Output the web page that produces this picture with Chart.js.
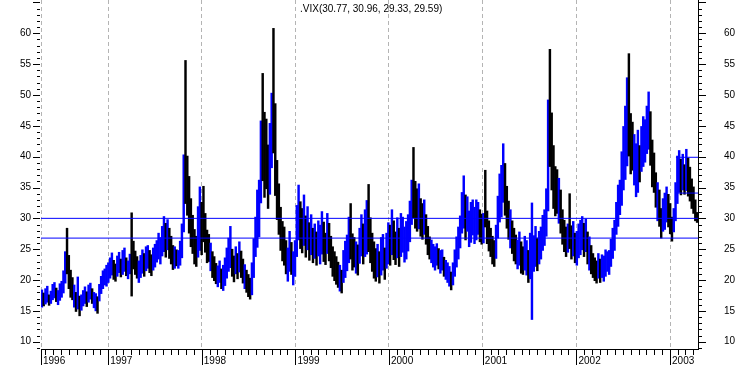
<!DOCTYPE html>
<html>
<head>
<meta charset="utf-8">
<title>VIX weekly</title>
<script src="https://cdn.jsdelivr.net/npm/chart.js@4.4.1/dist/chart.umd.min.js"></script>
<style>
  html, body { margin: 0; padding: 0; background: #fff; }
  #vix { display: block; }
</style>
</head>
<body>
<canvas id="vix" width="738" height="365"></canvas>
<script>
// weekly ranges, first bar = week of 14 Apr 1996
const firstWeek = '1996-04-14';

const low1996 = [15.6,15.8,16.1,16.4,15.9,16.2,16.8,17.1,16.5,16.0,16.7,17.2,17.9,19.5,21.0,18.6,17.2,16.8,15.6,14.9,15.3,14.2,15.1,15.8,16.2,15.7,16.4,16.9,16.2,15.5,15.0,14.6,16.6,17.8,18.6,19.2,19.0];
const high1996 = [18.4,17.9,18.6,19.0,17.6,18.2,19.3,19.6,18.7,18.3,19.4,19.8,21.5,24.6,28.4,24.0,21.6,20.4,19.2,18.0,20.5,17.4,17.6,18.3,18.9,18.1,19.2,19.5,18.6,18.0,17.8,17.3,19.3,20.6,21.5,21.8,22.4];

const low1997 = [19.6,20.3,20.8,20.1,19.8,20.6,21.2,20.5,20.9,21.4,20.7,20.2,21.0,17.4,21.8,20.9,20.3,19.6,20.4,21.1,20.6,21.5,21.9,21.2,20.7,21.6,22.1,22.9,23.4,22.6,23.9,24.6,23.7,24.9,23.5,22.6,21.7,21.9,22.3,21.9,22.4,23.6,27.8,32.4,30.5,27.6,25.4,24.3,22.6,22.2,23.7,24.8];
const high1997 = [22.8,23.6,24.4,23.2,22.6,23.9,24.5,23.4,24.8,25.2,23.6,23.1,24.2,30.9,26.3,24.7,23.8,23.1,24.0,24.9,24.3,25.4,25.6,24.8,24.1,25.2,25.8,26.4,27.6,26.9,28.7,30.3,29.2,29.8,28.4,27.1,25.6,25.4,24.9,24.8,26.3,29.1,40.3,55.6,40.1,36.8,33.2,30.5,28.2,27.1,31.9,35.1];

const low1998 = [24.1,26.2,24.5,22.8,23.0,21.5,20.4,19.9,19.4,18.9,19.6,18.6,18.3,19.1,20.3,21.4,22.0,20.6,19.7,21.0,20.2,21.3,20.4,19.5,18.6,18.0,17.3,16.9,17.6,20.4,23.8,25.3,27.0,32.5,36.1,33.4,34.8,31.6,33.9,38.2,40.6,33.7,29.8,27.4,24.8,23.1,22.4,21.0,19.8,21.4,20.9,19.2];
const high1998 = [32.6,35.2,30.8,28.1,27.4,26.0,24.6,23.8,22.7,22.3,23.1,21.8,22.4,23.6,25.2,26.8,28.7,25.0,23.9,25.4,24.3,26.2,24.7,23.4,22.5,21.6,20.9,20.3,22.8,26.7,30.2,34.6,36.2,45.8,53.5,47.2,46.1,41.9,45.4,50.3,60.8,48.6,39.4,35.6,31.8,29.5,28.6,26.4,25.2,27.9,26.1,24.6];

const low1999 = [20.6,23.8,26.5,25.1,24.4,25.6,23.7,24.9,23.2,24.1,22.8,23.5,22.4,23.9,22.6,24.2,23.0,22.5,24.3,23.1,22.0,20.6,19.9,19.3,18.8,18.2,17.9,19.6,20.4,21.5,22.8,23.4,21.6,22.1,21.1,20.8,22.7,23.9,22.6,23.8,24.2,24.6,22.8,21.4,20.3,19.8,20.5,19.5,20.8,21.6,20.1,21.9,22.6];
const high1999 = [26.4,32.1,35.4,32.7,31.6,33.8,30.4,31.9,29.3,30.6,28.4,29.1,27.8,29.6,28.9,31.1,29.4,27.6,30.8,29.2,27.1,25.4,24.6,23.8,22.9,22.4,21.6,24.8,26.3,27.3,30.2,32.4,27.5,26.9,26.2,25.7,28.4,30.6,29.1,31.4,32.9,35.5,30.1,27.6,26.2,25.1,25.8,24.6,26.9,27.4,25.2,27.6,29.3];

const low2000 = [22.4,24.1,23.3,22.5,23.6,22.2,23.8,24.5,22.9,23.4,24.7,26.2,29.0,30.1,28.4,27.9,28.3,27.1,26.6,27.4,25.8,24.1,23.4,22.8,22.1,21.6,22.4,21.8,21.1,21.6,20.6,20.1,19.6,19.0,18.4,19.2,20.6,22.1,23.4,25.2,27.6,28.4,26.5,27.9,25.4,26.1,27.3,25.9,26.5,27.4,26.2,25.8];
const high2000 = [28.9,31.4,29.6,27.8,30.1,28.4,30.8,30.2,28.6,29.5,30.6,32.8,36.2,41.5,36.0,34.8,35.6,33.2,32.4,33.0,30.6,28.7,27.0,26.5,25.8,25.4,25.9,25.1,24.8,24.9,23.7,23.2,22.8,22.2,21.3,22.8,24.9,27.0,28.6,30.4,34.2,36.9,33.8,33.5,31.2,32.6,33.0,31.8,33.0,32.6,31.4,30.7];

const low2001 = [26.0,28.6,25.9,24.7,23.8,22.6,22.2,23.5,26.8,29.4,30.2,32.6,30.5,28.4,26.6,25.2,24.3,23.1,22.6,21.8,22.4,21.1,20.9,21.6,20.8,19.6,20.2,13.6,21.4,22.2,21.5,22.6,23.4,24.8,25.6,27.1,31.2,38.4,34.6,31.6,30.4,30.8,29.2,27.6,25.8,24.6,23.8,24.5,25.1,23.4,23.9,22.8];
const high2001 = [30.8,37.8,31.2,29.6,28.4,27.1,26.4,28.9,33.6,37.2,38.6,42.1,38.9,35.2,32.8,31.4,29.6,28.4,27.3,26.5,27.8,26.2,25.4,27.1,26.4,24.8,27.6,32.5,27.2,28.7,26.8,27.9,28.6,30.5,31.4,34.8,49.2,57.4,47.1,41.8,38.4,37.9,36.5,34.6,31.4,29.7,28.6,29.1,34.0,28.8,29.5,27.6];

const low2002 = [22.4,23.6,24.1,24.9,23.8,24.6,22.6,21.6,21.0,20.4,19.9,19.5,20.3,19.6,20.4,19.8,20.6,21.4,20.9,22.2,23.5,24.8,27.4,28.7,30.6,32.1,34.6,36.3,38.5,40.1,37.2,37.8,35.4,33.5,34.2,35.9,37.6,38.4,39.1,40.5,41.2,38.6,35.1,34.2,31.8,29.6,28.7,26.8,27.9,28.2,29.4,28.6];
const high2002 = [27.9,29.1,29.7,30.3,29.2,29.9,27.8,27.0,25.6,24.3,23.6,23.1,24.3,23.4,24.1,23.9,24.9,24.6,24.8,26.6,28.4,29.7,32.6,35.4,36.2,40.8,44.9,48.2,52.8,56.7,47.0,45.6,43.6,42.1,44.3,41.8,44.9,46.5,46.0,48.2,50.5,47.3,42.7,40.6,37.4,35.8,34.6,31.6,33.2,34.1,35.1,33.9];

const low2003 = [27.5,26.3,27.8,29.6,32.4,34.2,33.8,34.6,33.9,34.5,33.6,32.8,31.6,30.8,29.6,29.33];
const high2003 = [32.4,30.2,31.6,35.8,40.1,41.0,39.6,40.4,38.7,41.2,39.8,38.3,36.4,35.1,33.0,30.96];

const yearLabels = ['1996', '1997', '1998', '1999', '2000', '2001', '2002', '2003'];
const yTicks = [10, 15, 20, 25, 30, 35, 40, 45, 50, 55, 60];
const levels = [30.0, 26.8];
const channel = [39.9, 34.1];
const channelFrom = '2003-01-24';
const title = '.VIX(30.77, 30.96, 29.33, 29.59)';

const lows = [].concat(low1996, low1997, low1998, low1999, low2000, low2001, low2002, low2003);
const highs = [].concat(high1996, high1997, high1998, high1999, high2000, high2001, high2002, high2003);

const DAY = 86400000;
const t0 = Date.parse(firstWeek);
const weekPos = d => (Date.parse(d) - t0) / (7 * DAY) - 0.5;
const weeks = lows.map((_, i) => new Date(t0 + i * 7 * DAY).toISOString().slice(0, 10));
const xMin = -0.5;
const xMax = lows.length - 0.5;
const yearTicks = yearLabels.map((y, i) => i === 0 ? xMin : weekPos(y + '-01-01'));

// black for weeks that drifted lower on a narrower range and for upward spikes
// that reversed; downward spikes stay blue
const barColors = lows.map((lo, i) => {
  if (!i || i === lows.length - 1) return i ? '#000000' : '#0000ff';
  const fell = lo + highs[i] < lows[i - 1] + highs[i - 1];
  const narrower = highs[i] - lo < highs[i - 1] - lows[i - 1];
  const reversed = highs[i] - highs[i + 1] > 4;
  const dip = lo < Math.min(lows[i - 1], lows[i + 1]) - 5;
  if (dip) return '#0000ff';
  return (fell && narrower) || reversed ? '#000000' : '#0000ff';
});

const hline = (v, from) => ({
  type: 'line',
  data: [{x: from, y: v}, {x: xMax, y: v}],
  borderColor: '#0000ff',
  borderWidth: 1,
  pointRadius: 0,
  order: 0
});

const noPad = s => { s.paddingTop = 0; s.paddingBottom = 0; s.paddingLeft = 0; s.paddingRight = 0; };

// minor/major tick marks and the caption
const axisMarks = {
  id: 'axisMarks',
  afterDraw(chart) {
    const {ctx, chartArea: a, scales: {x, y}} = chart;
    ctx.save();
    ctx.strokeStyle = '#000';
    ctx.lineWidth = 1;
    ctx.beginPath();
    for (let v = Math.ceil(y.min); v <= Math.floor(y.max); v++) {
      const py = Math.round(y.getPixelForValue(v)) + 0.5;
      const major = v % 5 === 0;
      ctx.moveTo(a.left - (major ? 8 : 4), py);
      ctx.lineTo(a.left - 1, py);
      ctx.moveTo(a.right, py);
      ctx.lineTo(a.right + (major ? 8 : 4), py);
    }
    const edge = Math.round(x.getPixelForValue(xMin)) + 0.5;
    ctx.moveTo(edge, a.bottom);
    ctx.lineTo(edge, a.bottom + 16);
    for (let yr = 1996; yr <= 2003; yr++) {
      for (let m = 1; m <= 12; m++) {
        const pos = weekPos(yr + '-' + String(m).padStart(2, '0') + '-01');
        if (pos <= xMin || pos >= xMax) continue;
        const px = Math.round(x.getPixelForValue(pos)) + 0.5;
        ctx.moveTo(px, a.bottom);
        ctx.lineTo(px, a.bottom + (m === 1 ? 16 : 6));
      }
    }
    ctx.stroke();
    ctx.fillStyle = '#000';
    ctx.font = '10px "Liberation Sans", Arial, sans-serif';
    ctx.textBaseline = 'alphabetic';
    ctx.fillText(title, 300, 12);
    ctx.restore();
  }
};

Chart.defaults.font.family = '"Liberation Sans", Arial, sans-serif';
Chart.defaults.font.size = 10;
Chart.defaults.color = '#000';

new Chart(document.getElementById('vix'), {
  type: 'bar',
  data: {
    labels: weeks,
    datasets: [
      {
        type: 'bar',
        data: lows.map((lo, i) => ({x: i, y: [lo, highs[i]]})),
        backgroundColor: barColors,
        borderWidth: 0,
        barPercentage: 1,
        categoryPercentage: 1,
        order: 2
      },
      hline(levels[0], xMin),
      hline(levels[1], xMin),
      hline(channel[0], weekPos(channelFrom)),
      hline(channel[1], weekPos(channelFrom))
    ]
  },
  options: {
    responsive: false,
    animation: false,
    devicePixelRatio: 1,
    layout: { padding: 0 },
    plugins: {
      legend: { display: false },
      tooltip: { enabled: false }
    },
    scales: {
      x: {
        type: 'linear',
        min: xMin,
        max: xMax,
        offset: false,
        afterBuildTicks: s => { s.ticks = yearTicks.map(v => ({value: v})); },
        afterFit: s => { s.height = 16; noPad(s); },
        ticks: {
          autoSkip: false,
          maxRotation: 0,
          align: 'start',
          labelOffset: 2,
          padding: 6,
          callback: (v, i) => yearLabels[i]
        },
        grid: { offset: false, drawOnChartArea: true, drawTicks: false, color: '#b4b4b4', lineWidth: 1 },
        border: { display: true, color: '#000', width: 1, dash: [4, 3] }
      },
      y: {
        type: 'linear',
        position: 'left',
        min: 8.82,
        max: 65.4,
        afterBuildTicks: s => { s.ticks = yTicks.map(v => ({value: v})); },
        afterFit: s => { s.width = 41; noPad(s); },
        ticks: { padding: 10 },
        grid: { drawOnChartArea: false, drawTicks: false },
        border: { display: false }
      },
      y2: {
        type: 'linear',
        position: 'right',
        min: 8.82,
        max: 65.4,
        afterBuildTicks: s => { s.ticks = yTicks.map(v => ({value: v})); },
        afterFit: s => { s.width = 40; noPad(s); },
        ticks: { padding: 26 },
        grid: { drawOnChartArea: false, drawTicks: false },
        border: { display: true, color: '#000', width: 1 }
      }
    }
  },
  plugins: [axisMarks]
});
</script>
</body>
</html>
